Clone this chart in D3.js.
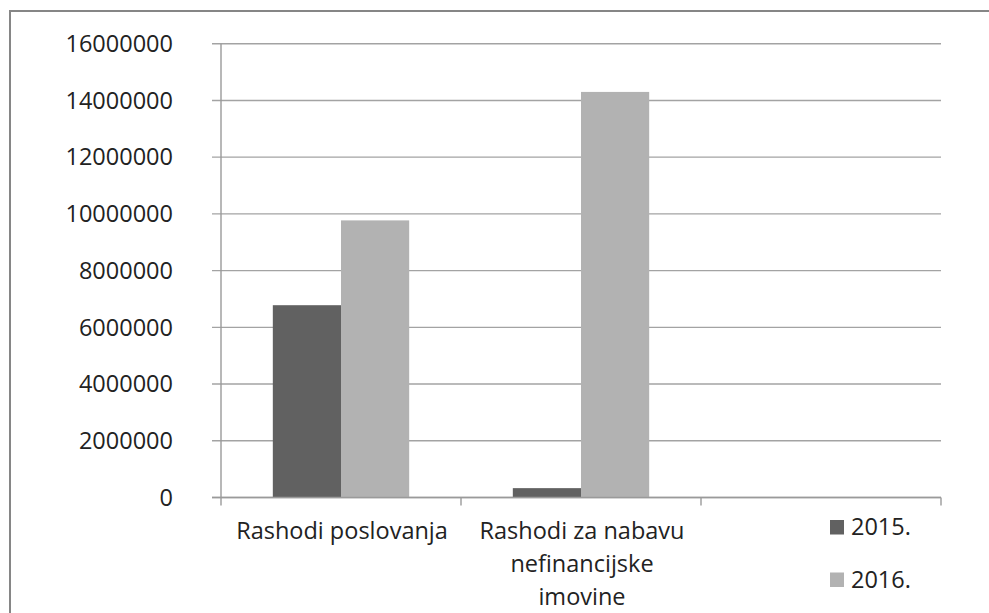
<!DOCTYPE html>
<html>
<head>
<meta charset="utf-8">
<script src="https://cdn.jsdelivr.net/npm/d3@7/dist/d3.min.js"></script>
<style>
  html, body { margin: 0; padding: 0; background: #fff; overflow: hidden; }
  text { font-family: "Open Sans", sans-serif; fill: #222; }
</style>
</head>
<body>
<div id="vis"></div>
<script>
// chart values
var categories = ['Rashodi poslovanja', 'Rashodi za nabavu nefinancijske imovine', ''];
var seriesNames = ['2015.', '2016.'];
var values2015 = [6780000, 330000, null];
var values2016 = [9770000, 14300000, null];
var yTickValues = [0, 2000000, 4000000, 6000000, 8000000, 10000000, 12000000, 14000000, 16000000];
var seriesColors = ['#616161', '#b2b2b2'];

function drawChart() {
  var width = 989;
  var height = 613;
  var margin = { top: 43.7, left: 221, bottom: 115.5, right: 48 };
  var fontSize = 23.5;

  var svg = d3.select('#vis').append('svg')
    .attr('width', width)
    .attr('height', height);

  // outer chart frame (right and bottom sides fall outside the picture)
  svg.append('rect')
    .attr('x', 10)
    .attr('y', 11)
    .attr('width', width + 20)
    .attr('height', height + 20)
    .attr('fill', 'none')
    .attr('stroke', '#868686')
    .attr('stroke-width', 2);

  var x = d3.scaleBand()
    .domain(categories)
    .range([margin.left, width - margin.right]);

  var xSub = d3.scaleBand()
    .domain(seriesNames)
    .range([0, x.bandwidth()])
    .paddingInner(0)
    .paddingOuter(0.76);

  var y = d3.scaleLinear()
    .domain([0, 16000000])
    .range([height - margin.bottom, margin.top]);

  // horizontal gridlines, with the small tick part left of the axis
  svg.append('g')
    .selectAll('line')
    .data(yTickValues)
    .enter()
    .append('line')
    .attr('x1', margin.left - 9)
    .attr('x2', width - margin.right)
    .attr('y1', function (d) { return y(d); })
    .attr('y2', function (d) { return y(d); })
    .attr('stroke', '#a3a3a3')
    .attr('stroke-width', 1.4);

  // y tick labels
  svg.append('g')
    .selectAll('text')
    .data(yTickValues)
    .enter()
    .append('text')
    .attr('x', 173)
    .attr('y', function (d) { return y(d); })
    .attr('dy', '0.35em')
    .attr('text-anchor', 'end')
    .style('font-size', fontSize + 'px')
    .text(function (d) { return d3.format('d')(d); });

  // bars
  var rows = [];
  for (var i = 0; i < categories.length; i++) {
    rows.push({ cat: categories[i], key: seriesNames[0], value: values2015[i], color: seriesColors[0] });
    rows.push({ cat: categories[i], key: seriesNames[1], value: values2016[i], color: seriesColors[1] });
  }
  svg.append('g')
    .selectAll('rect')
    .data(rows.filter(function (d) { return d.value != null; }))
    .enter()
    .append('rect')
    .attr('x', function (d) { return x(d.cat) + xSub(d.key); })
    .attr('y', function (d) { return y(d.value); })
    .attr('width', xSub.bandwidth())
    .attr('height', function (d) { return y(0) - y(d.value); })
    .attr('fill', function (d) { return d.color; });

  // axis lines
  svg.append('line')
    .attr('x1', margin.left).attr('x2', margin.left)
    .attr('y1', margin.top).attr('y2', y(0) + 8)
    .attr('stroke', '#9a9a9a')
    .attr('stroke-width', 1.4);

  svg.append('line')
    .attr('x1', margin.left - 9).attr('x2', width - margin.right)
    .attr('y1', y(0)).attr('y2', y(0))
    .attr('stroke', '#9a9a9a')
    .attr('stroke-width', 1.4);

  // category ticks between bands
  svg.append('g')
    .selectAll('line')
    .data(categories)
    .enter()
    .append('line')
    .attr('x1', function (d) { return x(d) + x.bandwidth(); })
    .attr('x2', function (d) { return x(d) + x.bandwidth(); })
    .attr('y1', y(0))
    .attr('y2', y(0) + 8)
    .attr('stroke', '#9a9a9a')
    .attr('stroke-width', 1.4);

  // category labels, wrapped to fit
  svg.append('g')
    .selectAll('text')
    .data(categories)
    .enter()
    .append('text')
    .attr('x', function (d) { return x(d) + x.bandwidth() / 2 + 1; })
    .attr('y', 539)
    .attr('text-anchor', 'middle')
    .style('font-size', fontSize + 'px')
    .text(function (d) { return d; })
    .call(wrap, 220, 33);

  // legend
  var legend = svg.append('g')
    .selectAll('g')
    .data(seriesNames)
    .enter()
    .append('g')
    .attr('transform', function (d, i) { return 'translate(830,' + (520 + i * 52.5) + ')'; });

  legend.append('rect')
    .attr('width', 14)
    .attr('height', 14.5)
    .attr('fill', function (d, i) { return seriesColors[i]; });

  legend.append('text')
    .attr('x', 21)
    .attr('y', 15)
    .style('font-size', fontSize + 'px')
    .text(function (d) { return d; });
}

function wrap(texts, maxWidth, lineHeight) {
  texts.each(function () {
    var t = d3.select(this);
    var words = t.text().split(/\s+/).filter(function (w) { return w.length; });
    var x0 = t.attr('x');
    var y0 = +t.attr('y');
    t.text(null);
    var line = [];
    var n = 0;
    var tspan = t.append('tspan').attr('x', x0).attr('y', y0);
    for (var i = 0; i < words.length; i++) {
      line.push(words[i]);
      tspan.text(line.join(' '));
      if (tspan.node().getComputedTextLength() > maxWidth && line.length > 1) {
        line.pop();
        tspan.text(line.join(' '));
        line = [words[i]];
        n += 1;
        tspan = t.append('tspan').attr('x', x0).attr('y', y0 + n * lineHeight).text(words[i]);
      }
    }
  });
}

drawChart();
</script>
</body>
</html>
